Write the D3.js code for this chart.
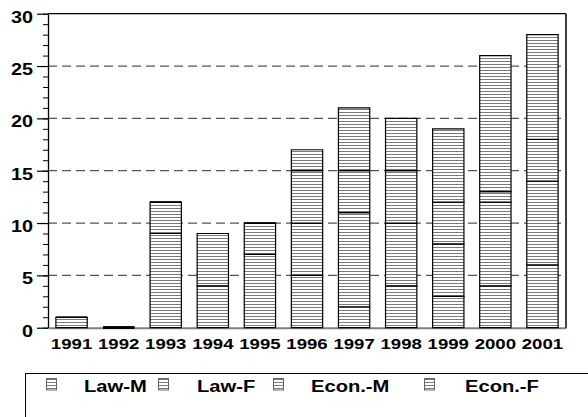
<!DOCTYPE html>
<html><head><meta charset="utf-8">
<script src="https://cdn.jsdelivr.net/npm/d3@7"></script>
<style>html,body{margin:0;padding:0;background:#fff;overflow:hidden}</style>
</head><body><svg id="c" width="588" height="417"></svg>
<script>
const years = ["1991","1992","1993","1994","1995","1996","1997","1998","1999","2000","2001"];
const lawM  = [1,0,9,4,7,5,2,4,3,4,6];
const lawF  = [0,0,3,5,3,5,9,6,5,8,8];
const econM = [0,0,0,0,0,5,4,5,4,1,4];
const econF = [0,0,0,0,0,2,6,5,7,13,10];
const seriesNames = ["Law-M","Law-F","Econ.-M","Econ.-F"];
const yTicks = [0,5,10,15,20,25,30];
const yMinor = d3.range(0,31,1);

const FONT = "Arial, 'Liberation Sans', sans-serif";
const svg = d3.select("#c");
const L = 48, R = 566, T = 13.7, B = 327.7;

const defs = svg.append("defs");
const pat = defs.append("pattern").attr("id","hatch").attr("patternUnits","userSpaceOnUse")
  .attr("width",4).attr("height",3);
pat.append("rect").attr("width",4).attr("height",3).attr("fill","#fff");
pat.append("line").attr("x1",0).attr("x2",4).attr("y1",1.5).attr("y2",1.5)
  .attr("stroke","#7a7a7a").attr("stroke-width",1);

const x = d3.scaleBand().domain(years).range([L,R]).paddingInner(0.335).paddingOuter(0.1675);
const y = d3.scaleLinear().domain([0,30]).range([B,T]);

// gridlines
svg.append("g").selectAll("line").data(yTicks.filter(v=>v>0 && v<30)).join("line")
  .attr("x1",L).attr("x2",R).attr("y1",d=>y(d)).attr("y2",d=>y(d))
  .attr("stroke","#555").attr("stroke-width",1.3).attr("stroke-dasharray","9,5");

// x axis (drawn under bars)
const xAx = svg.append("g").attr("transform",`translate(0,${B})`)
  .call(d3.axisBottom(x).tickSize(0).tickSizeOuter(0));
xAx.select(".domain").attr("stroke","#808080").attr("stroke-width",2);
xAx.selectAll(".tick text").attr("y",0).attr("dy",null)
  .attr("transform","translate(0,21.6) scale(1.2,1)")
  .attr("text-anchor","middle").attr("fill","#000")
  .style("font-family",FONT).style("font-weight","bold").style("font-size","15.5px");

// stacked data
const table = years.map((yr,i)=>({year:yr,"Law-M":lawM[i],"Law-F":lawF[i],"Econ.-M":econM[i],"Econ.-F":econF[i]}));
const stack = d3.stack().keys(seriesNames)(table);

const bw = x.bandwidth();
svg.append("g").selectAll("g").data(stack).join("g")
  .selectAll("path").data(d=>d).join("path")
  .attr("d", d=>{
    const x0 = x(d.data.year), y0 = y(d[0]), y1 = y(d[1]);
    return `M${x0},${y0}H${x0+bw}V${y1}H${x0}Z`;
  })
  .attr("fill","url(#hatch)").attr("stroke","#000")
  .attr("stroke-width", d => (d[1]-d[0]===0 && d[0]===0) ? 2.2 : 1.2);

// frame top/right
svg.append("line").attr("x1",L).attr("x2",R).attr("y1",T).attr("y2",T).attr("stroke","#000").attr("stroke-width",1.3);
svg.append("line").attr("x1",R).attr("x2",R).attr("y1",T).attr("y2",B).attr("stroke","#000").attr("stroke-width",1.5);

// minor ticks
const minorAx = svg.append("g").attr("transform",`translate(${L},0)`)
  .call(d3.axisLeft(y).tickValues(yMinor).tickSize(5).tickFormat(""));
minorAx.select(".domain").remove();
minorAx.selectAll("line").attr("stroke","#000");

// major axis
const yAx = svg.append("g").attr("transform",`translate(${L},0)`)
  .call(d3.axisLeft(y).tickValues(yTicks).tickSize(11).tickSizeOuter(0));
yAx.select(".domain").attr("stroke","#000").attr("stroke-width",1.3);
yAx.selectAll(".tick line").attr("stroke","#000").attr("stroke-width",1.2);
yAx.selectAll(".tick text").attr("x",0).attr("dy",null)
  .attr("transform","translate(-15,8.3) scale(1.2,1)")
  .attr("text-anchor","end").attr("fill","#000")
  .style("font-family",FONT).style("font-weight","bold").style("font-size","16.5px");

// legend
svg.append("rect").attr("x",25.5).attr("y",373.5).attr("width",620).attr("height",100)
  .attr("fill","none").attr("stroke","#000").attr("stroke-width",1);
const swX = [46,158,273,424];
const txX = [84,197,311,465];
const lg = svg.append("g").selectAll("g").data(seriesNames).join("g");
lg.append("rect").attr("x",(d,i)=>swX[i]+0.5).attr("y",378.5).attr("width",10).attr("height",11.5)
  .attr("fill","url(#hatch)").attr("stroke","#666").attr("stroke-width",1);
lg.append("text").attr("transform",(d,i)=>`translate(${txX[i]},391.7) scale(1.2,1)`)
  .text(d=>d).attr("fill","#000")
  .style("font-family",FONT).style("font-weight","bold").style("font-size","16.8px");
</script></body></html>
